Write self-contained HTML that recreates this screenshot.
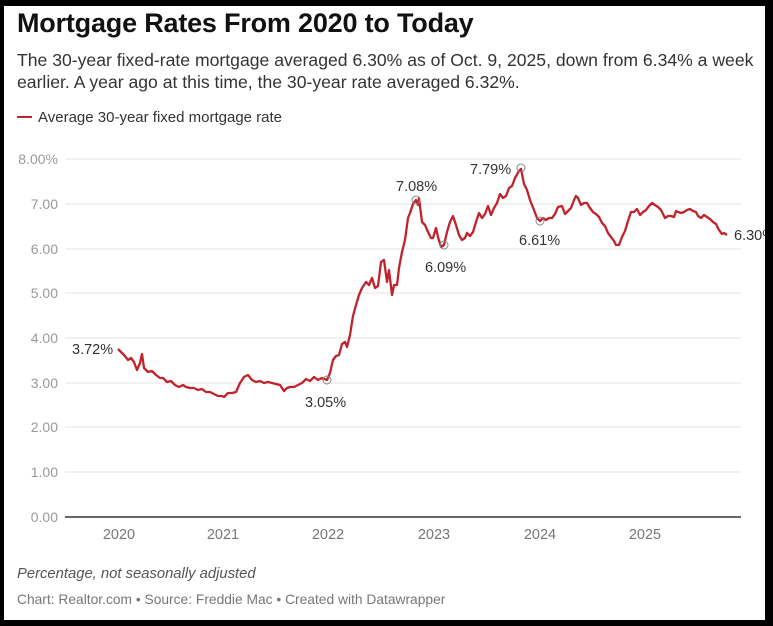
<!DOCTYPE html>
<html><head><style>
body{margin:0;background:#000;}
#c{position:absolute;left:4px;top:6px;width:761px;height:614px;background:#fff;overflow:hidden;font-family:"Liberation Sans",sans-serif;}
.t{position:absolute;left:13px;top:2px;font-size:27px;font-weight:bold;color:#111;letter-spacing:-0.2px}
.s{position:absolute;left:13px;top:43px;font-size:17.6px;line-height:22px;color:#333;width:745px}
.l{position:absolute;left:13px;top:103px;font-size:15px;color:#333}
.l span{display:inline-block;width:15px;height:2px;background:#c0232c;vertical-align:middle;margin-right:6px;margin-top:-3px}
.n{position:absolute;left:13px;top:560px;font-size:14.8px;font-style:italic;color:#555}
.f{position:absolute;left:13px;top:586px;font-size:13.8px;color:#777}
</style></head><body>
<div id="c">
<div class="t">Mortgage Rates From 2020 to Today</div>
<div class="s">The 30-year fixed-rate mortgage averaged 6.30% as of Oct. 9, 2025, down from 6.34% a week earlier. A year ago at this time, the 30-year rate averaged 6.32%.</div>
<div class="l"><span></span>Average 30-year fixed mortgage rate</div>
<div class="n">Percentage, not seasonally adjusted</div>
<div class="f">Chart: Realtor.com • Source: Freddie Mac • Created with Datawrapper</div>
<svg width="773" height="626" style="position:absolute;left:-4px;top:-6px" font-family="Liberation Sans, sans-serif">
<g stroke="#e3e3e3" stroke-width="1">
<line x1="65" x2="741" y1="159" y2="159"/><line x1="65" x2="741" y1="204" y2="204"/><line x1="65" x2="741" y1="249" y2="249"/><line x1="65" x2="741" y1="293" y2="293"/><line x1="65" x2="741" y1="338" y2="338"/><line x1="65" x2="741" y1="383" y2="383"/><line x1="65" x2="741" y1="427" y2="427"/><line x1="65" x2="741" y1="472" y2="472"/>
</g>
<line x1="65" x2="741" y1="517" y2="517" stroke="#666" stroke-width="2"/>
<g fill="#999" font-size="14" text-anchor="end">
<text x="58" y="164">8.00%</text><text x="58" y="209">7.00</text><text x="58" y="254">6.00</text><text x="58" y="298">5.00</text><text x="58" y="343">4.00</text><text x="58" y="388">3.00</text><text x="58" y="432">2.00</text><text x="58" y="477">1.00</text><text x="58" y="522">0.00</text>
</g>
<g fill="#777" font-size="14.5" text-anchor="middle">
<text x="119" y="539">2020</text><text x="223" y="539">2021</text><text x="328" y="539">2022</text><text x="434" y="539">2023</text><text x="540" y="539">2024</text><text x="645" y="539">2025</text>
</g>
<polyline fill="none" stroke="#c0232c" stroke-width="2.3" stroke-linejoin="round" points="118,349 124,355 128,360 131,358 134,362 137,370 140,363 142,354 144,368 148,372 152,371 156,375 160,378 163,378 167,382 171,381 175,385 179,387 183,385 186,387 190,388 194,388 198,390 202,389 206,392 210,392 214,394 218,396 222,396 224,397 228,393 232,393 236,392 240,383 244,377 248,375 252,380 256,382 260,381 264,383 268,382 272,383 276,384 280,385 284,391 287,388 290,387 294,387 298,385 302,383 306,379 310,381 314,377 318,380 322,378 327,380 330,373 333,360 336,356 339,355 342,344 345,342 347,347 350,335 353,316 356,305 359,295 362,288 366,282 369,285 372,278 375,288 378,286 381,262 384,260 387,282 389,270 392,295 394,285 397,285 399,268 402,252 405,240 408,218 410,213 413,204 416,200 418,205 419,198 422,222 425,225 428,232 431,238 433,238 436,228 438,237 441,247 444,245 447,232 450,222 453,216 456,225 459,235 462,240 465,238 467,233 470,236 473,232 476,222 479,213 482,218 485,214 488,206 491,215 494,208 497,203 500,194 503,198 506,196 509,188 512,186 515,178 519,171 521,169 524,184 527,190 530,200 534,210 537,218 540,221 543,218 546,220 549,218 552,218 555,214 558,207 562,206 565,214 568,211 571,208 574,200 576,196 578,198 581,205 584,203 587,203 590,208 593,212 596,214 599,217 602,223 605,226 608,233 611,237 614,241 616,245 619,245 622,237 625,231 628,221 631,212 634,212 637,209 640,215 643,212 646,210 649,206 652,203 655,205 658,207 661,210 665,218 668,216 671,216 674,217 676,211 678,212 681,213 684,212 687,210 690,209 693,211 696,212 698,216 701,218 704,215 707,217 710,219 713,222 716,224 719,230 722,234 724,233 727,235"/>
<g fill="none" stroke="#888" stroke-width="1"><circle cx="327" cy="380" r="4"/><circle cx="416" cy="200" r="4"/><circle cx="444" cy="245" r="4"/><circle cx="521" cy="168" r="4"/><circle cx="540" cy="221" r="4"/></g>
<g fill="#333" font-size="14.5">
<text x="72" y="354">3.72%</text><text x="305" y="407">3.05%</text><text x="396" y="191">7.08%</text><text x="425" y="272">6.09%</text><text x="470" y="174">7.79%</text><text x="519" y="245">6.61%</text><text x="734" y="240">6.30%</text>
</g>
</svg>
</div>
</body></html>
